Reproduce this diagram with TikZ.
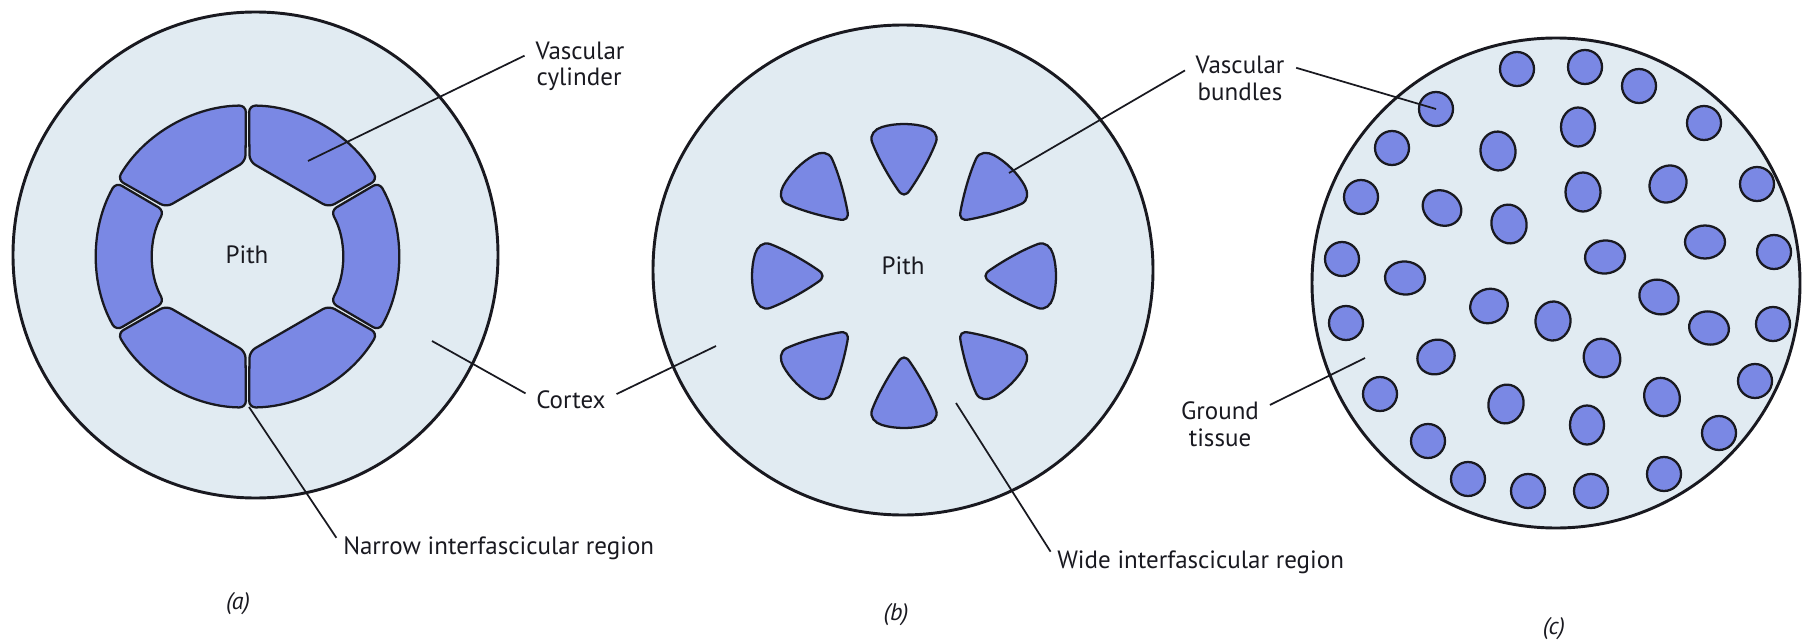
\documentclass[tikz,border=0pt]{standalone}
\usepackage{fontspec}
\setmainfont{PT Sans}
\begin{document}
\begin{tikzpicture}[x=0.75pt,y=0.75pt,yscale=-1,xscale=1,
  tissue/.style={draw={rgb, 255:red, 25; green, 25; blue, 32 }, fill={rgb, 255:red, 225; green, 235; blue, 242 }, line width=2.2pt},
  vbundle/.style={draw={rgb, 255:red, 25; green, 25; blue, 32 }, fill={rgb, 255:red, 122; green, 136; blue, 228 }, line width=1.7pt},
  leader/.style={draw={rgb, 255:red, 25; green, 25; blue, 32 }, line width=1.3pt, shorten <=9pt},
  lbl/.style={inner sep=0pt, text={rgb, 255:red, 25; green, 25; blue, 32 }, font=\fontsize{18.75}{22}\selectfont},
  tag/.style={lbl, font=\fontsize{18}{22}\selectfont\itshape, anchor=base}]
\useasboundingbox (0,0) rectangle (1805,639);

%Shape: Circle (a) cortex
\draw [tissue] (255.5,255) ellipse [x radius=242.5, y radius=243];
%Shape: vascular cylinder, six segments
\begin{scope}[shift={(247.5,256.5)}]
\foreach \c in {60,120,240,300} {
  \draw [vbundle, rounded corners=5pt] (\c-29.4:151) arc [start angle=\c-29.4, end angle=\c+29.4, radius=151] -- (\c+28.8:95) -- (\c-28.8:95) -- cycle ;
}
\foreach \c in {0,180} {
  \draw [vbundle, rounded corners=5pt] (\c-29.4:151) arc [start angle=\c-29.4, end angle=\c+29.4, radius=151] -- (\c+28.8:95) arc [start angle=\c+28.8, end angle=\c-28.8, radius=95] -- cycle ;
}
\end{scope}

%Shape: Circle (b) cortex
\draw [tissue] (903,270) ellipse [x radius=250, y radius=245];
%Shape: eight vascular bundles, tip toward the pith
\foreach \a in {0,45,...,315} {
  \draw [vbundle, shift={(904,276)}, rotate=\a] (86,6) .. controls (99,15) and (118,26) .. (134,32) .. controls (141,34.6) and (147,29) .. (149,22) .. controls (153,9) and (153,-9) .. (149,-22) .. controls (147,-29) and (141,-34.6) .. (134,-32) .. controls (118,-26) and (99,-15) .. (86,-6) .. controls (80,-2) and (80,2) .. (86,6) -- cycle ;
}

%Shape: Circle (c) ground tissue
\draw [tissue] (1556,283) ellipse [x radius=244, y radius=245];
%Shape: scattered vascular bundles
\foreach \x/\y/\rx/\ry/\r in {1517/69/17/17/0, 1585/67/17/17/0, 1639/86/17/17/0, 1436/109/17/17/0,
  1578/127/17/19.5/0, 1704/123/17/17/0, 1392/148/17/17/0, 1498/151/17.5/19.5/-10,
  1361/197/17/17/0, 1442/208/20/17/30, 1509/224/17.5/19.5/-15, 1583/192/17.5/19.5/0,
  1668/184/19.5/17.5/-45, 1757/184/17/17/0, 1342/259/17/17/0, 1405/278/20/16.5/5,
  1605/257/20/16.5/-5, 1705/242/20/16.5/0, 1774/252/17/17/0, 1489/306/19/17/-20,
  1553/321/17.5/19.5/5, 1659/297/20/17/20, 1346/323/17/17/0, 1709/328/20/16.5/10,
  1773/324/17/17/0, 1436/357/19/17/-25, 1602/358/18/19.5/-25, 1380/394/17/17/0,
  1506/404/17.5/19.5/15, 1662/397/17.5/19.5/-25, 1755/381/17/17/0, 1587/425/17/19.5/0,
  1428/441/17/17/0, 1719/433/17/17/0, 1468/479/17/17/0, 1528/491/17/17/0,
  1591/491/17/17/0, 1664/474/17/17/0} {
  \draw [vbundle, rotate around={\r:(\x,\y)}] (\x,\y) ellipse [x radius=\rx, y radius=\ry] ;
}

% Text Node
\node (pithA) [lbl, anchor=base] at (247,263) {Pith};
% Text Node
\node (pithB) [lbl, anchor=base] at (903,274) {Pith};
% Text Node
\node (cylA) [lbl, anchor=base] at (580,59) {Vascular};
\node (cylB) [lbl, anchor=base] at (579,85) {cylinder};
% Text Node
\node (cortex) [lbl, anchor=base west] at (536,408) {Cortex};
% Text Node
\node (narrow) [lbl, anchor=base west] at (343,554) {Narrow interfascicular region};
% Text Node
\node (wide) [lbl, anchor=base west] at (1057,568) {Wide interfascicular region};
% Text Node
\node (vbA) [lbl, anchor=base] at (1240,73) {Vascular};
\node (vbB) [lbl, anchor=base] at (1240,100) {bundles};
% Text Node
\node (grA) [lbl, anchor=base] at (1220,419) {Ground};
\node (grB) [lbl, anchor=base] at (1220,446) {tissue};
% Text Node
\node (tagA) [tag] at (238,609) {(a)};
\node (tagB) [tag] at (896,620) {(b)};
\node (tagC) [tag] at (1554,634) {(c)};

%Straight Lines: leaders
\coordinate (cylEnd) at (308,161);
\coordinate (ctxA) at (432,341);
\coordinate (ctxB) at (716,346);
\coordinate (nrwEnd) at (249,407);
\coordinate (wideEnd) at (956,403);
\coordinate (vbEndB) at (1009,173);
\coordinate (vbEndC) at (1436,109);
\coordinate (grEnd) at (1365,358);
\draw [leader] (cylA.west) -- (cylEnd) ;
\draw [leader] (cortex.west) -- (ctxA) ;
\draw [leader] (cortex.east) -- (ctxB) ;
\draw [leader] (narrow.west) -- (nrwEnd) ;
\draw [leader] (wide.west) -- (wideEnd) ;
\draw [leader] (vbA.west) -- (vbEndB) ;
\draw [leader] (vbA.east) -- (vbEndC) ;
\draw [leader] (grA.east) -- (grEnd) ;

\end{tikzpicture}
\end{document}
